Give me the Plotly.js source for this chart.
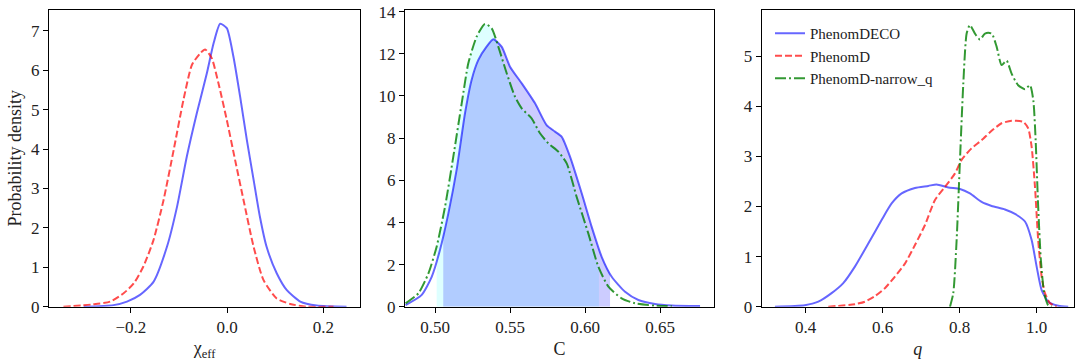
<!DOCTYPE html>
<html>
<head>
<meta charset="utf-8">
<script src="https://cdn.plot.ly/plotly-3.0.1.min.js"></script>
<style>html,body{margin:0;padding:0;background:#fff}#chart{width:1079px;height:361px}</style>
</head>
<body>
<div id="chart"></div>
<script>
// Panel 1: chi_eff
const chiDecoX = [-0.298,-0.236,-0.208,-0.181,-0.153,-0.125,-0.104,-0.0837,-0.063,-0.042,-0.028,-0.0145,-0.0007,0.013,0.027,0.041,0.055,0.068,0.082,0.103,0.124,0.152,0.186,0.248];
const chiDecoY = [0,0.04,0.13,0.3,0.63,1.52,2.54,3.81,4.91,5.93,6.69,7.18,7.07,6.35,5.33,4.23,3.22,2.29,1.52,0.85,0.42,0.13,0.03,0];
const chiDX = [-0.340,-0.278,-0.243,-0.215,-0.194,-0.174,-0.153,-0.132,-0.111,-0.0907,-0.073,-0.056,-0.0457,-0.032,-0.018,-0.0007,0.0166,0.034,0.055,0.0754,0.103,0.131,0.165,0.221];
const chiDY = [0,0.06,0.13,0.34,0.59,1.02,1.69,2.71,3.98,5.25,6.14,6.43,6.53,6.31,5.67,4.74,3.72,2.71,1.52,0.68,0.21,0.07,0,0];

// Panel 2: C
const cDecoX = [0.4804,0.491,0.4978,0.5033,0.5089,0.5144,0.52,0.5244,0.5289,0.5344,0.5389,0.5444,0.55,0.5578,0.5667,0.5744,0.58,0.5844,0.59,0.5978,0.6044,0.6111,0.6178,0.6267,0.6356,0.6467,0.6578,0.6767];
const cDecoY = [0.08,0.55,1.42,2.69,4.43,6.49,9.18,10.76,11.71,12.34,12.69,12.34,11.39,10.6,9.65,8.62,8.31,8.07,7.12,5.38,3.8,2.37,1.42,0.71,0.32,0.13,0.06,0.03];
const cNarrowX = [0.4804,0.4889,0.4956,0.5011,0.5067,0.5122,0.5178,0.5222,0.5278,0.5333,0.5378,0.5422,0.5478,0.5533,0.5578,0.5644,0.57,0.5756,0.5822,0.5878,0.5944,0.6022,0.6089,0.6156,0.6244,0.6333,0.6467,0.6578];
const cNarrowY = [0.16,0.63,1.58,2.85,4.75,7.12,9.65,11.55,12.82,13.42,13.21,12.34,11.08,9.97,9.41,8.94,8.23,7.75,7.36,6.8,5.22,3.48,1.9,0.95,0.4,0.16,0.05,0.03];
const cDecoInterval = [0.5055, 0.6167];
const cNarrowInterval = [0.5011, 0.6093];

// Panel 3: q
const qDecoX = [0.3203,0.398,0.433,0.4675,0.4978,0.528,0.5628,0.5974,0.6234,0.6494,0.684,0.7186,0.7403,0.7706,0.8009,0.8268,0.8571,0.8831,0.9177,0.9437,0.9697,0.987,1.0,1.013,1.0303,1.0563,1.082];
const qDecoY = [0,0.03,0.1,0.27,0.47,0.8,1.26,1.73,2.06,2.26,2.37,2.41,2.44,2.38,2.35,2.26,2.09,2.01,1.94,1.85,1.7,1.33,0.8,0.33,0.1,0.02,0];
const qDX = [0.4589,0.528,0.554,0.58,0.606,0.632,0.658,0.684,0.71,0.736,0.762,0.788,0.805,0.831,0.857,0.883,0.909,0.935,0.965,0.978,0.987,0.9957,1.004,1.013,1.0216,1.0346,1.052];
const qDY = [0,0.05,0.1,0.21,0.37,0.6,0.86,1.23,1.63,2.13,2.39,2.66,2.93,3.16,3.32,3.51,3.66,3.71,3.69,3.56,3.19,2.39,1.33,0.6,0.27,0.07,0];
const qNarrowX = [0.775,0.7835,0.7922,0.8009,0.8095,0.8182,0.8268,0.8398,0.8528,0.8658,0.8831,0.896,0.909,0.922,0.935,0.952,0.9697,0.9827,0.9913,0.9974,1.004,1.011,1.0196,1.03,1.039];
const qNarrowY = [0,0.27,1.33,2.93,4.45,5.45,5.62,5.45,5.33,5.45,5.45,5.19,4.82,4.91,4.65,4.42,4.34,4.42,4.12,3.32,1.99,0.93,0.27,0.03,0];

const seriesNames = ["PhenomDECO", "PhenomD", "PhenomD-narrow_q"];

const BLUE = "rgba(0,0,255,0.6)";
const RED = "rgba(255,0,0,0.7)";
const GREEN = "rgba(0,128,0,0.8)";
const FONT = "Liberation Serif, Times New Roman, serif";

function clip(xs, ys, a, b) {
  const ox = [], oy = [];
  const interp = (x) => {
    for (let i = 0; i < xs.length - 1; i++) {
      if (xs[i] <= x && x <= xs[i+1]) {
        const t = (x - xs[i]) / (xs[i+1] - xs[i]);
        return ys[i] + t * (ys[i+1] - ys[i]);
      }
    }
    return 0;
  };
  ox.push(a); oy.push(interp(a));
  for (let i = 0; i < xs.length; i++) if (xs[i] > a && xs[i] < b) { ox.push(xs[i]); oy.push(ys[i]); }
  ox.push(b); oy.push(interp(b));
  return {x: ox, y: oy};
}

function line(x, y, color, dash, xa, ya, name, show) {
  return {x, y, type: "scatter", mode: "lines", xaxis: xa, yaxis: ya, name,
    showlegend: !!show, line: {color, width: 2, dash, shape: "spline", smoothing: 0.6}, hoverinfo: "skip"};
}

const fN = clip(cNarrowX, cNarrowY, cNarrowInterval[0], cNarrowInterval[1]);
const fD = clip(cDecoX, cDecoY, cDecoInterval[0], cDecoInterval[1]);

const traces = [
  line(chiDecoX, chiDecoY, BLUE, "solid", "x", "y", seriesNames[0]),
  line(chiDX, chiDY, RED, "7px,3px", "x", "y", seriesNames[1]),
  {x: fN.x, y: fN.y, type: "scatter", mode: "lines", xaxis: "x2", yaxis: "y2", fill: "tozeroy",
    fillcolor: "rgba(0,255,255,0.13)", line: {width: 0, shape: "spline", smoothing: 0.6}, showlegend: false, hoverinfo: "skip"},
  {x: fD.x, y: fD.y, type: "scatter", mode: "lines", xaxis: "x2", yaxis: "y2", fill: "tozeroy",
    fillcolor: "rgba(0,0,255,0.2)", line: {width: 0, shape: "spline", smoothing: 0.6}, showlegend: false, hoverinfo: "skip"},
  line(cDecoX, cDecoY, BLUE, "solid", "x2", "y2", seriesNames[0]),
  line(cNarrowX, cNarrowY, GREEN, "11px,3px,2px,3px", "x2", "y2", seriesNames[2]),
  line(qDecoX, qDecoY, BLUE, "solid", "x3", "y3", seriesNames[0], true),
  line(qDX, qDY, RED, "7px,3px", "x3", "y3", seriesNames[1], true),
  line(qNarrowX, qNarrowY, GREEN, "11px,3px,2px,3px", "x3", "y3", seriesNames[2], true)
];

const W = 1079, H = 361;
const yDom = [(H - 306.7) / H, (H - 10) / H];
function xax(dom, range, dtick, fmt, title, anchor) {
  return {domain: dom, range, dtick, tick0: 0, tickformat: fmt, anchor,
    showgrid: false, zeroline: false, showline: true, linecolor: "#000", linewidth: 1, mirror: true,
    ticks: "outside", ticklen: 5, tickcolor: "#000", tickfont: {family: FONT, size: 17, color: "#222"},
    title: {text: title, font: {family: FONT, size: 18, color: "#222"}, standoff: 6}, automargin: false};
}
function yax(range, dtick, anchor, title) {
  const ax = {domain: yDom, range, dtick, tick0: 0, anchor,
    showgrid: false, zeroline: false, showline: true, linecolor: "#000", linewidth: 1, mirror: true,
    ticks: "outside", ticklen: 5, tickcolor: "#000", tickfont: {family: FONT, size: 17, color: "#222"},
    automargin: false};
  if (title) ax.title = {text: title, font: {family: FONT, size: 18, color: "#222"}, standoff: 4};
  return ax;
}

const layout = {
  width: W, height: H, margin: {l: 0, r: 0, t: 0, b: 0}, paper_bgcolor: "#fff", plot_bgcolor: "#fff",
  font: {family: FONT, color: "#222"},
  xaxis: xax([49 / W, 360 / W], [-0.370, 0.276], 0.2, ".1f", "χ<sub>eff</sub>", "y"),
  yaxis: yax([0, 7.53], 1, "x", "Probability density"),
  xaxis2: xax([405 / W, 714 / W], [0.48, 0.686], 0.05, ".2f", "C", "y2"),
  yaxis2: yax([0, 14.08], 2, "x2"),
  xaxis3: xax([761.7 / W, 1074 / W], [0.286, 1.097], 0.2, ".1f", "<i>q</i>", "y3"),
  yaxis3: yax([0, 5.92], 1, "x3"),
  showlegend: true,
  legend: {x: 770 / W, y: (H - 17) / H, xanchor: "left", yanchor: "top", bgcolor: "rgba(255,255,255,0)",
    font: {family: FONT, size: 15, color: "#222"}, tracegroupgap: 0, itemwidth: 30}
};

Plotly.newPlot("chart", traces, layout, {staticPlot: true, displayModeBar: false});
</script>
</body>
</html>
